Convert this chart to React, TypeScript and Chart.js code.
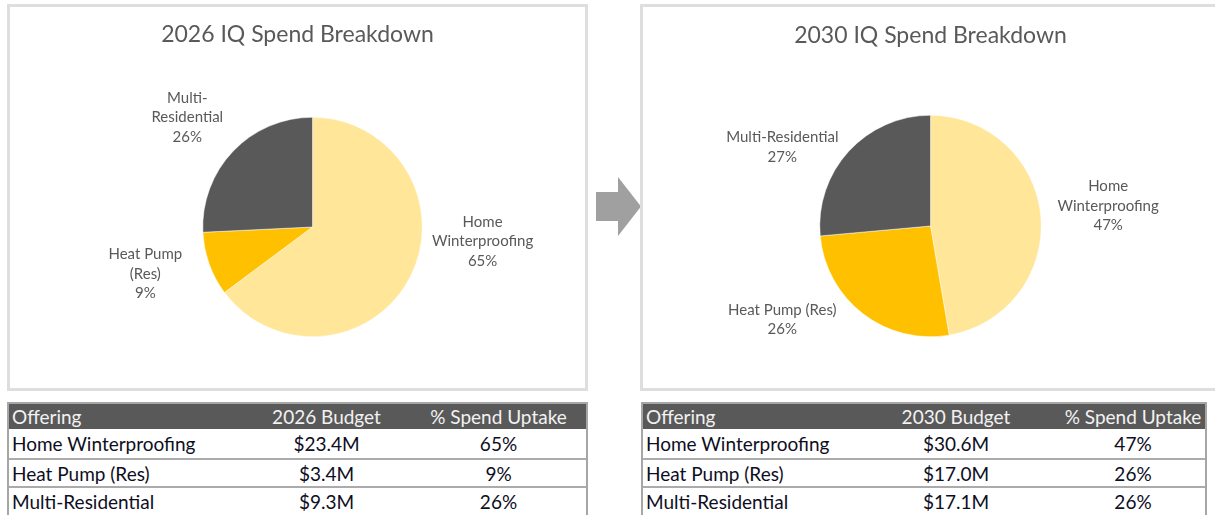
import React, { useEffect, useRef } from 'react';
import { Chart, registerables } from 'chart.js';

Chart.register(...registerables);

// ---------- data ----------
const offerings = ['Home Winterproofing', 'Heat Pump (Res)', 'Multi-Residential'];
const budget2026 = [23.4, 3.4, 9.3];
const budget2030 = [30.6, 17.0, 17.1];
const uptake2026 = [65, 9, 26];
const uptake2030 = [47, 26, 26];
const pieLabelPct2026 = [65, 9, 26];
const pieLabelPct2030 = [47, 26, 27];
const pieLabelLines2026 = [['Home', 'Winterproofing'], ['Heat Pump', '(Res)'], ['Multi-', 'Residential']];
const pieLabelLines2030 = [['Home', 'Winterproofing'], ['Heat Pump (Res)'], ['Multi-Residential']];
const titles = ['2026 IQ Spend Breakdown', '2030 IQ Spend Breakdown'];
const budgetHeaders = ['2026 Budget', '2030 Budget'];

// ---------- styles ----------
const sliceColors = ['#FFE699', '#FFC000', '#595959'];
const FONT = 'Lato, "Open Sans", sans-serif';

const sliceLabelPlugin = {
  id: 'sliceLabels',
  afterDatasetsDraw(chart: any) {
    const opts = chart.options.plugins.sliceLabels;
    if (!opts) return;
    const meta = chart.getDatasetMeta(0);
    const ctx = chart.ctx;
    ctx.save();
    // title, centred on the whole box
    ctx.fillStyle = opts.color;
    ctx.font = opts.titleFont;
    ctx.textAlign = 'center';
    ctx.textBaseline = 'middle';
    ctx.fillText(opts.title, chart.width / 2, opts.titleY);
    // slice labels
    ctx.font = opts.font;
    meta.data.forEach((arc: any, i: number) => {
      const p = arc.getProps(['x', 'y', 'outerRadius'], true);
      const lines = [...opts.lines[i], opts.pcts[i] + '%'];
      const cx = p.x + opts.anchors[i][0] * p.outerRadius;
      const cy = p.y + opts.anchors[i][1] * p.outerRadius;
      const lh = opts.lineHeight;
      const top = cy - ((lines.length - 1) * lh) / 2;
      lines.forEach((t: string, k: number) => ctx.fillText(t, cx, top + k * lh));
    });
    ctx.restore();
  },
};

function PieBox(props: any) {
  const ref = useRef<HTMLCanvasElement>(null);
  useEffect(() => {
    const chart = new Chart(ref.current as HTMLCanvasElement, {
      type: 'pie',
      data: {
        labels: offerings,
        datasets: [
          {
            data: props.values,
            backgroundColor: sliceColors,
            borderColor: '#ffffff',
            borderWidth: 0.5,
          },
        ],
      },
      options: {
        animation: false,
        responsive: false,
        devicePixelRatio: 1,
        layout: { padding: props.padding },
        plugins: {
          legend: { display: false },
          tooltip: { enabled: false },
          title: { display: false },
          sliceLabels: {
            title: props.title,
            titleFont: '23px ' + FONT,
            titleY: props.titleY,
            lines: props.lines,
            pcts: props.pcts,
            anchors: props.anchors,
            color: '#595959',
            font: '15px ' + FONT,
            lineHeight: 19.5,
          },
        } as any,
      },
      plugins: [sliceLabelPlugin],
    });
    return () => chart.destroy();
  }, []);
  return (
    <div
      style={{
        position: 'absolute',
        left: props.left,
        top: 4,
        width: 581,
        height: 387,
        boxSizing: 'border-box',
        border: '3px solid #DEDEDE',
        background: '#fff',
      }}
    >
      <canvas
        ref={ref}
        width={581}
        height={387}
        style={{ position: 'absolute', left: -3, top: -3, width: 581, height: 387 }}
      />
    </div>
  );
}

const rowHeights = [29, 26, 27];

function DataTable(props: any) {
  const cols = props.cols;
  const rowBase: any = {
    display: 'grid',
    gridTemplateColumns: cols.map((c: number) => c + 'px').join(' '),
    alignItems: 'center',
  };
  return (
    <div
      style={{
        position: 'absolute',
        left: props.left,
        top: 402,
        width: props.width,
        boxSizing: 'border-box',
        borderLeft: '2px solid #A6A6A6',
        borderRight: '2px solid #A6A6A6',
        borderTop: '2px solid #A6A6A6',
        fontFamily: FONT,
        fontSize: 19,
      }}
    >
      <div style={{ ...rowBase, height: 25, background: '#595959', color: '#F2F2F2' }}>
        <div style={{ paddingLeft: 3 }}>Offering</div>
        <div style={{ textAlign: 'center' }}>{props.budgetHeader}</div>
        <div style={{ textAlign: 'center' }}>% Spend Uptake</div>
      </div>
      {offerings.map((o, i) => (
        <div
          key={o}
          style={{
            ...rowBase,
            height: rowHeights[i],
            borderTop: i === 0 ? 'none' : '2px solid #ABABAB',
            color: '#0E0E1E',
            background: '#fff',
          }}
        >
          <div style={{ paddingLeft: 3 }}>{o}</div>
          <div style={{ textAlign: 'center' }}>{'$' + props.budget[i].toFixed(1) + 'M'}</div>
          <div style={{ textAlign: 'center' }}>{props.uptake[i] + '%'}</div>
        </div>
      ))}
    </div>
  );
}

export default function App() {
  return (
    <div
      style={{
        position: 'absolute',
        left: 0,
        top: 0,
        width: 1215,
        height: 516,
        overflow: 'hidden',
        background: '#fff',
      }}
    >
      <PieBox
        left={7}
        title={titles[0]}
        titleY={31}
        values={budget2026}
        lines={pieLabelLines2026}
        pcts={pieLabelPct2026}
        anchors={[[1.55, 0.13], [-1.523, 0.427], [-1.141, -1.0]]}
        padding={{ left: 150, right: 120, top: 113, bottom: 54 }}
      />
      <svg
        width={60}
        height={80}
        style={{ position: 'absolute', left: 590, top: 170 }}
        viewBox="590 170 60 80"
      >
        <polygon
          points="596,192 618,192 618,177 641,206.5 618,236 618,221 596,221"
          fill="#A0A0A0"
        />
      </svg>
      <PieBox
        left={640}
        title={titles[1]}
        titleY={32}
        values={budget2030}
        lines={pieLabelLines2030}
        pcts={pieLabelPct2030}
        anchors={[[1.604, -0.18], [-1.338, 0.847], [-1.338, -0.712]]}
        padding={{ left: 120, right: 120, top: 111, bottom: 54 }}
      />
      <DataTable
        left={7}
        width={581}
        cols={[233, 169, 175]}
        budgetHeader={budgetHeaders[0]}
        budget={budget2026}
        uptake={uptake2026}
      />
      <DataTable
        left={641}
        width={566}
        cols={[208, 210, 144]}
        budgetHeader={budgetHeaders[1]}
        budget={budget2030}
        uptake={uptake2030}
      />
    </div>
  );
}
